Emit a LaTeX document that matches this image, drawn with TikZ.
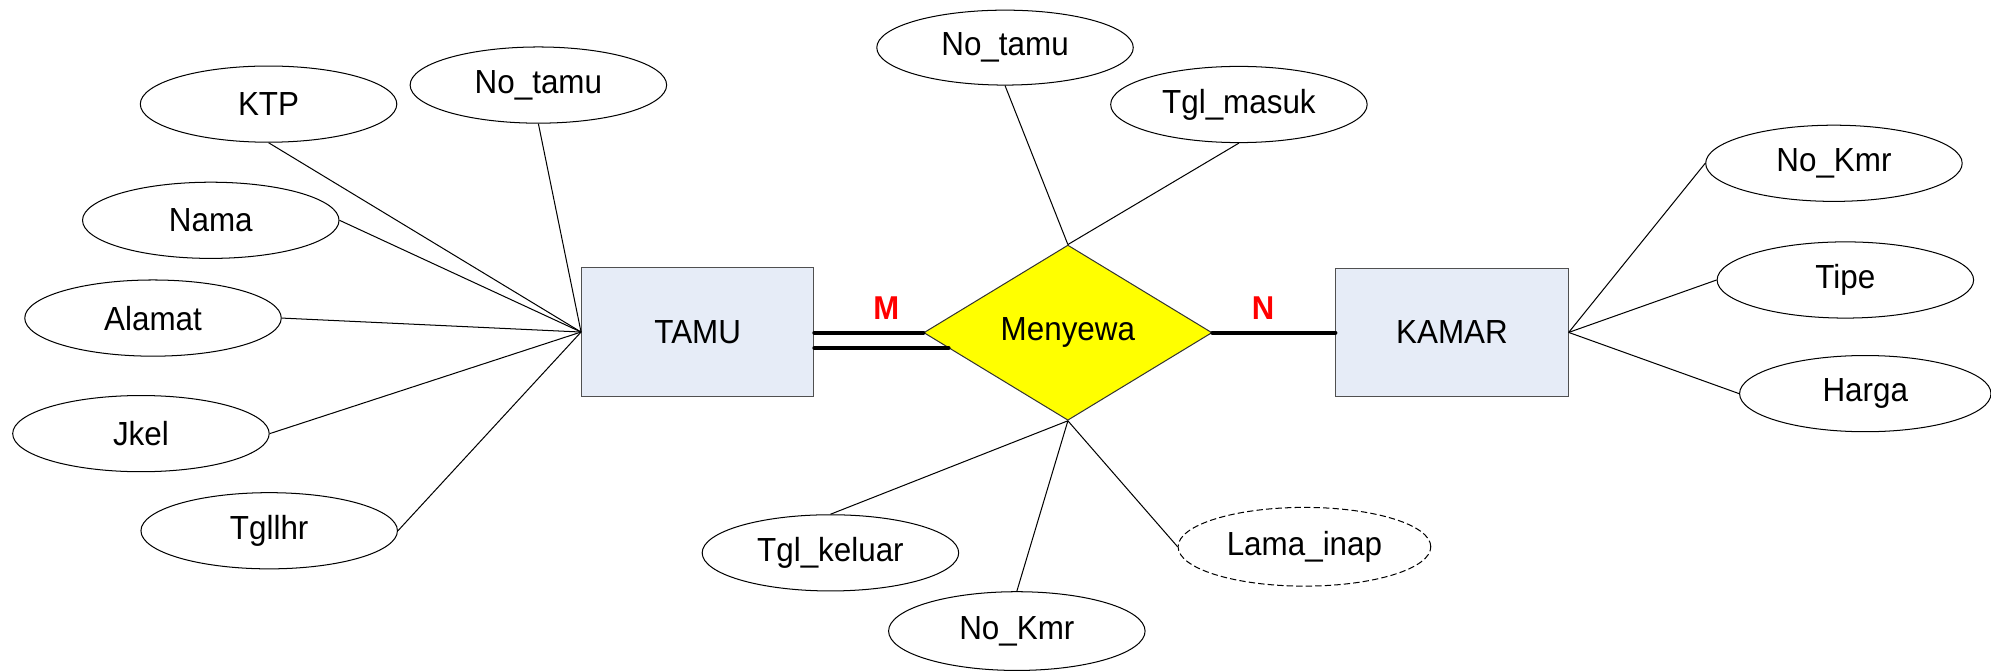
\documentclass[tikz,border=0pt]{standalone}
\usepackage{fontspec}
\setmainfont{Liberation Sans}[FakeStretch=0.94]
\usetikzlibrary{shapes.geometric,calc}
\definecolor{boxfill}{HTML}{E6ECF7}
\definecolor{boxline}{HTML}{505050}
\definecolor{relfill}{HTML}{FFFF00}
\definecolor{cardred}{HTML}{FF0000}
\begin{document}
\begin{tikzpicture}[x=1pt,y=-1pt,
  attr/.style={ellipse,draw=black,line width=0.8pt,inner sep=0pt,minimum width=202pt,minimum height=60pt,font=\fontsize{26.3}{30}\selectfont},
  derived/.style={attr,dashed,dash pattern=on 5pt off 2.5pt},
  entity/.style={rectangle,draw=boxline,fill=boxfill,line width=0.8pt,inner sep=0pt,minimum width=183pt,minimum height=101pt,font=\fontsize{26.3}{30}\selectfont},
  relation/.style={diamond,draw=black!80,fill=relfill,line width=0.8pt,inner sep=0pt,minimum width=227pt,minimum height=138pt,font=\fontsize{26.3}{30}\selectfont},
  link/.style={draw=black,line width=0.8pt},
  heavy/.style={draw=black,line width=3.4pt,line cap=round},
  card/.style={text=cardred,inner sep=0pt,font=\fontsize{26}{30}\selectfont\bfseries}
]
\useasboundingbox (0,0) rectangle (1568,529);

% entities and relationship
\node[entity] (tamu) at (549.5,261.5) {TAMU};
\node[relation] (menyewa) at (841,262) {Menyewa};
\node[entity] (kamar) at (1143.5,261.8) {KAMAR};

% TAMU attributes
\node[attr] (ktp) at (211.5,82) {KTP};
\node[attr] (notamuL) at (424,67) {No\_tamu};
\node[attr] (nama) at (166,173.5) {Nama};
\node[attr] (alamat) at (120.5,250.5) {Alamat};
\node[attr] (jkel) at (111,341.5) {Jkel};
\node[attr] (tgllhr) at (212,418) {Tgllhr};

% relationship attributes
\node[attr,minimum height=59pt] (notamuT) at (791.5,37.5) {No\_tamu};
\node[attr] (tglmasuk) at (975.7,82.3) {Tgl\_masuk};
\node[attr] (tglkeluar) at (654,435.4) {Tgl\_keluar};
\node[attr,minimum height=62pt] (nokmrB) at (800.8,497) {No\_Kmr};
\node[derived,minimum width=199pt,minimum height=62pt] (lamainap) at (1027.3,430.6) {Lama\_inap};

% KAMAR attributes
\node[attr] (nokmrR) at (1444.3,128.6) {No\_Kmr};
\node[attr] (tipe) at (1453.3,220.5) {Tipe};
\node[attr,minimum width=198pt] (harga) at (1469,310) {Harga};

% cardinalities
\node[card] (cardM) at (698,242.6) {M};
\node[card] (cardN) at (994.7,242.6) {N};

% TAMU attribute links
\draw[link] (ktp.south) -- (tamu.west);
\draw[link] (notamuL.south) -- (tamu.west);
\draw[link] (nama.east) -- (tamu.west);
\draw[link] (alamat.east) -- (tamu.west);
\draw[link] (jkel.east) -- (tamu.west);
\draw[link] (tgllhr.east) -- (tamu.west);

% relationship attribute links
\draw[link] (notamuT.south) -- (menyewa.north);
\draw[link] (tglmasuk.south) -- (menyewa.north);
\draw[link] (tglkeluar.north) -- (menyewa.south);
\draw[link] (nokmrB.north) -- (menyewa.south);
\draw[link] (lamainap.west) -- (menyewa.south);

% KAMAR attribute links
\draw[link] (kamar.east) -- (nokmrR.west);
\draw[link] (kamar.east) -- (tipe.west);
\draw[link] (kamar.east) -- (harga.west);

% participation lines
\coordinate (lowEnd) at ($(menyewa.west)!0.174!(menyewa.south)$);
\draw[heavy] (tamu.east |- menyewa.west) -- (menyewa.west);
\draw[heavy] (tamu.east |- lowEnd) -- (lowEnd);
\draw[heavy] (menyewa.east) -- (kamar.west |- menyewa.east);
\end{tikzpicture}
\end{document}
